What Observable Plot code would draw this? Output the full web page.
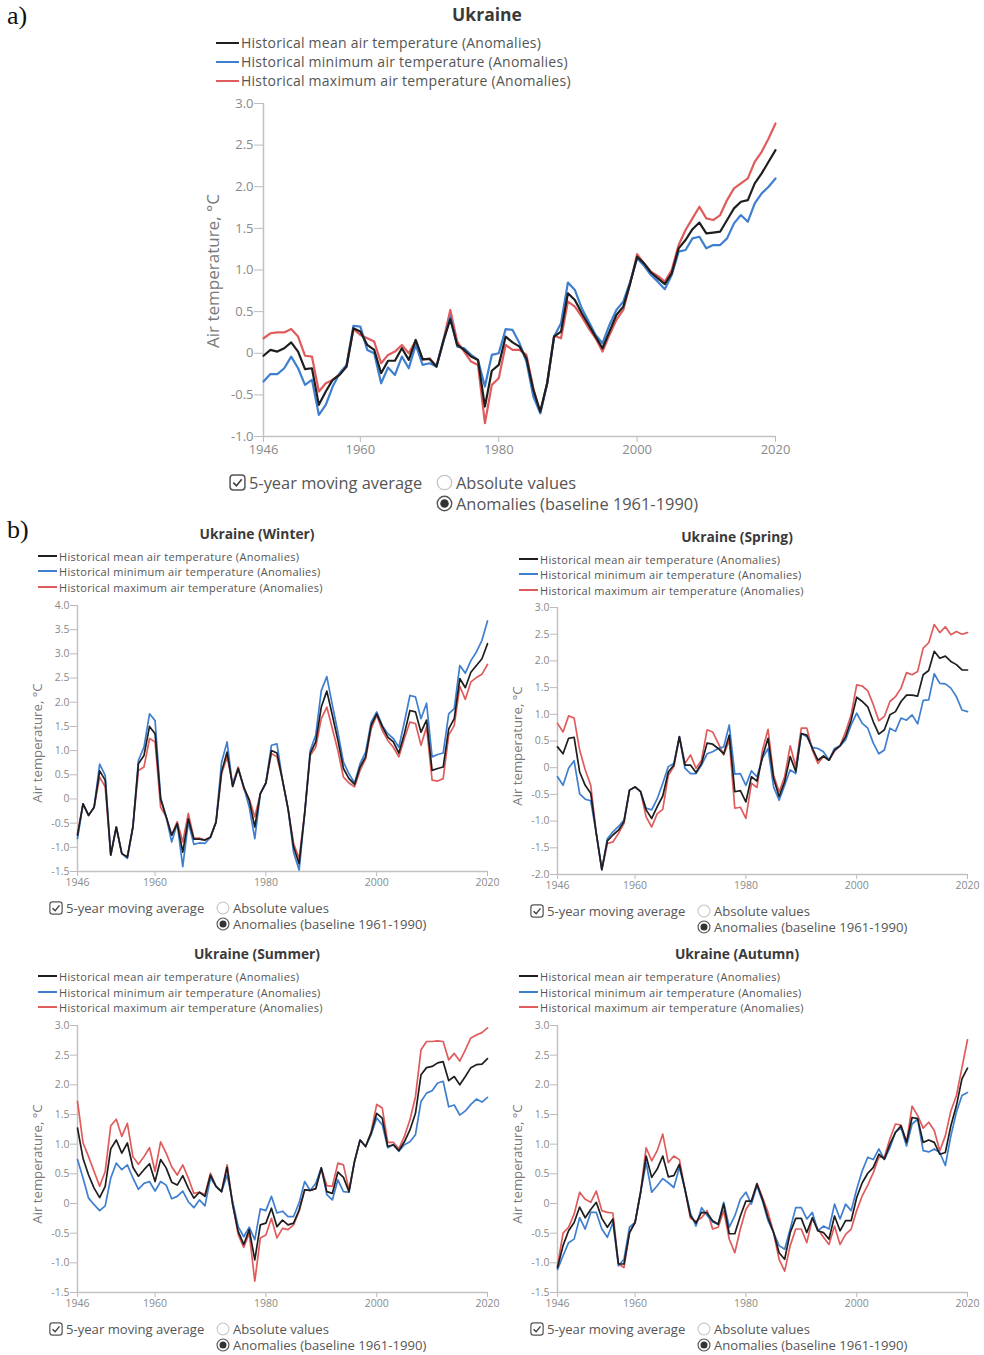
<!DOCTYPE html>
<html><head><meta charset="utf-8">
<script src="https://cdn.jsdelivr.net/npm/d3@7"></script>
<script src="https://cdn.jsdelivr.net/npm/@observablehq/plot@0.6"></script>
<style>
body{margin:0;background:#fff;font-family:"Open Sans",sans-serif;}
#page{position:relative;width:984px;height:1355px;overflow:hidden;background:#fff;}
.abs{position:absolute;white-space:nowrap;}
.abs svg{display:block;max-width:none !important;}
</style></head><body><div id="page"></div>
<script>
const years = [1946,1947,1948,1949,1950,1951,1952,1953,1954,1955,1956,1957,1958,1959,1960,1961,1962,1963,1964,1965,1966,1967,1968,1969,1970,1971,1972,1973,1974,1975,1976,1977,1978,1979,1980,1981,1982,1983,1984,1985,1986,1987,1988,1989,1990,1991,1992,1993,1994,1995,1996,1997,1998,1999,2000,2001,2002,2003,2004,2005,2006,2007,2008,2009,2010,2011,2012,2013,2014,2015,2016,2017,2018,2019,2020];
const xTicks = [1946,1960,1980,2000,2020];
const yTicksAnnual = [-1,-0.5,0,0.5,1,1.5,2,2.5,3];
const yTicksWinter = [-1.5,-1,-0.5,0,0.5,1,1.5,2,2.5,3,3.5,4];
const yTicksSpring = [-2,-1.5,-1,-0.5,0,0.5,1,1.5,2,2.5,3];
const yTicksSummerAutumn = [-1.5,-1,-0.5,0,0.5,1,1.5,2,2.5,3];
const seriesNames = ["Historical mean air temperature (Anomalies)","Historical minimum air temperature (Anomalies)","Historical maximum air temperature (Anomalies)"];

const annualMean = [-0.03,0.04,0.02,0.06,0.13,0.02,-0.19,-0.18,-0.62,-0.46,-0.32,-0.26,-0.16,0.30,0.26,0.10,0.04,-0.24,-0.09,-0.09,0.06,-0.08,0.16,-0.07,-0.07,-0.16,0.15,0.41,0.10,0.04,-0.04,-0.08,-0.64,-0.21,-0.14,0.20,0.13,0.08,-0.06,-0.44,-0.70,-0.36,0.20,0.26,0.72,0.64,0.48,0.34,0.20,0.06,0.26,0.46,0.56,0.84,1.16,1.08,0.97,0.90,0.83,0.96,1.26,1.36,1.49,1.57,1.44,1.45,1.46,1.60,1.74,1.82,1.84,2.04,2.16,2.30,2.44];
const annualMin = [-0.34,-0.25,-0.25,-0.18,-0.04,-0.18,-0.38,-0.32,-0.74,-0.62,-0.40,-0.24,-0.14,0.33,0.32,0.04,0.00,-0.36,-0.17,-0.26,-0.04,-0.18,0.10,-0.14,-0.12,-0.16,0.14,0.44,0.08,0.06,-0.02,-0.08,-0.40,-0.02,0.00,0.29,0.28,0.12,-0.10,-0.52,-0.72,-0.36,0.20,0.36,0.85,0.76,0.54,0.38,0.22,0.12,0.34,0.52,0.62,0.86,1.14,1.05,0.94,0.86,0.77,0.94,1.22,1.24,1.38,1.40,1.26,1.30,1.30,1.38,1.56,1.66,1.58,1.80,1.92,2.00,2.10];
const annualMax = [0.18,0.24,0.25,0.25,0.29,0.20,-0.03,-0.04,-0.46,-0.36,-0.32,-0.25,-0.16,0.29,0.22,0.18,0.14,-0.12,-0.02,0.02,0.10,0.00,0.15,-0.08,-0.06,-0.16,0.16,0.52,0.14,0.02,-0.10,-0.14,-0.84,-0.38,-0.30,0.10,0.04,0.04,-0.02,-0.42,-0.72,-0.36,0.21,0.18,0.62,0.56,0.44,0.30,0.18,0.02,0.22,0.40,0.52,0.84,1.19,1.08,0.98,0.93,0.86,1.00,1.30,1.48,1.62,1.76,1.62,1.60,1.66,1.84,1.98,2.04,2.10,2.30,2.42,2.58,2.76];

const winterMean = [-0.75,-0.10,-0.34,-0.17,0.58,0.39,-1.16,-0.58,-1.13,-1.20,-0.58,0.73,0.90,1.50,1.35,0.00,-0.37,-0.75,-0.51,-1.10,-0.41,-0.83,-0.83,-0.85,-0.79,-0.48,0.56,0.97,0.26,0.63,0.25,-0.03,-0.58,0.11,0.33,1.00,0.95,0.39,-0.20,-0.99,-1.34,-0.30,0.94,1.18,1.90,2.23,1.73,1.21,0.63,0.42,0.30,0.66,0.87,1.52,1.76,1.50,1.28,1.18,0.95,1.35,1.83,1.80,1.38,1.63,0.59,0.63,0.66,1.45,1.66,2.49,2.30,2.62,2.76,2.90,3.21];
const winterMin = [-0.82,-0.10,-0.34,-0.17,0.72,0.49,-1.16,-0.58,-1.13,-1.23,-0.58,0.80,1.07,1.76,1.62,0.03,-0.37,-0.89,-0.51,-1.40,-0.48,-0.94,-0.91,-0.92,-0.79,-0.48,0.76,1.18,0.26,0.63,0.25,-0.17,-0.82,0.11,0.33,1.11,1.14,0.39,-0.20,-1.10,-1.47,-0.30,1.00,1.32,2.24,2.53,1.94,1.38,0.76,0.52,0.33,0.73,0.97,1.59,1.80,1.52,1.35,1.25,1.07,1.59,2.14,2.11,1.66,1.98,0.87,0.92,0.95,1.76,1.87,2.76,2.60,2.86,3.04,3.28,3.68];
const winterMax = [-0.72,-0.10,-0.34,-0.17,0.45,0.25,-1.16,-0.58,-1.13,-1.20,-0.58,0.59,0.66,1.25,1.18,-0.17,-0.37,-0.75,-0.47,-0.89,-0.30,-0.81,-0.81,-0.85,-0.79,-0.48,0.52,0.87,0.32,0.66,0.21,0.00,-0.37,0.11,0.33,0.94,0.87,0.39,-0.20,-0.92,-1.23,-0.30,0.90,1.07,1.66,1.90,1.45,1.00,0.45,0.33,0.25,0.59,0.83,1.45,1.73,1.42,1.21,1.07,0.87,1.25,1.59,1.56,1.11,1.49,0.39,0.37,0.42,1.32,1.52,2.33,2.06,2.42,2.51,2.58,2.78];

const springMean = [0.39,0.26,0.55,0.57,-0.08,-0.33,-0.48,-1.23,-1.91,-1.37,-1.26,-1.17,-1.01,-0.42,-0.36,-0.45,-0.79,-0.95,-0.73,-0.53,-0.08,0.05,0.58,0.05,0.05,-0.09,0.08,0.46,0.44,0.36,0.26,0.61,-0.45,-0.43,-0.64,-0.17,-0.25,0.21,0.55,-0.20,-0.54,-0.26,0.21,-0.07,0.64,0.61,0.36,0.14,0.22,0.14,0.33,0.41,0.58,0.89,1.32,1.24,1.14,0.86,0.63,0.71,0.99,1.05,1.24,1.36,1.36,1.34,1.74,1.82,2.18,2.05,2.09,1.99,1.93,1.83,1.83];
const springMin = [-0.17,-0.33,-0.01,0.13,-0.49,-0.59,-0.62,-1.23,-1.91,-1.33,-1.20,-1.10,-0.98,-0.42,-0.36,-0.45,-0.76,-0.79,-0.58,-0.29,0.02,0.08,0.58,-0.01,-0.11,-0.11,0.05,0.26,0.30,0.36,0.39,0.80,-0.12,-0.11,-0.33,-0.06,-0.17,0.18,0.36,-0.36,-0.61,-0.33,-0.04,-0.11,0.64,0.58,0.38,0.36,0.30,0.14,0.36,0.41,0.52,0.80,1.02,0.83,0.74,0.46,0.26,0.33,0.74,0.68,0.93,0.89,0.99,0.82,1.26,1.27,1.76,1.58,1.57,1.49,1.33,1.08,1.05];
const springMax = [0.83,0.67,0.97,0.93,0.33,-0.04,-0.33,-1.23,-1.91,-1.42,-1.39,-1.23,-1.04,-0.42,-0.36,-0.45,-0.92,-1.11,-0.86,-0.78,-0.14,0.02,0.58,0.08,0.24,-0.01,0.14,0.71,0.67,0.46,0.24,0.52,-0.76,-0.74,-0.95,-0.29,-0.37,0.33,0.72,-0.14,-0.45,-0.17,0.41,0.02,0.74,0.74,0.33,0.08,0.21,0.14,0.31,0.41,0.67,0.99,1.55,1.53,1.44,1.18,0.88,0.96,1.24,1.33,1.49,1.78,1.74,1.80,2.24,2.34,2.68,2.53,2.64,2.49,2.55,2.50,2.53];

const summerMean = [1.27,0.76,0.48,0.26,0.10,0.29,0.92,1.07,0.85,1.02,0.61,0.46,0.57,0.67,0.37,0.74,0.60,0.36,0.31,0.47,0.26,0.09,0.19,0.12,0.48,0.29,0.20,0.61,-0.02,-0.47,-0.69,-0.44,-0.95,-0.36,-0.33,-0.08,-0.39,-0.28,-0.36,-0.33,-0.11,0.23,0.22,0.25,0.60,0.20,0.17,0.53,0.44,0.20,0.71,1.07,0.96,1.19,1.52,1.44,0.96,0.99,0.89,1.04,1.24,1.52,2.17,2.29,2.31,2.37,2.39,2.07,2.14,2.00,2.14,2.29,2.34,2.35,2.44];
const summerMin = [0.74,0.43,0.09,-0.02,-0.12,-0.04,0.43,0.68,0.57,0.65,0.43,0.24,0.34,0.37,0.21,0.37,0.31,0.08,0.12,0.21,0.03,-0.07,0.06,-0.04,0.43,0.29,0.20,0.48,0.04,-0.39,-0.56,-0.40,-0.61,-0.09,-0.12,0.12,-0.16,-0.13,-0.22,-0.22,0.01,0.37,0.22,0.34,0.60,0.15,0.06,0.40,0.20,0.19,0.71,1.07,0.96,1.16,1.44,1.33,0.94,0.99,0.88,0.99,1.04,1.16,1.72,1.86,1.90,2.03,2.06,1.63,1.66,1.49,1.56,1.67,1.76,1.71,1.79];
const summerMax = [1.72,1.02,0.79,0.54,0.29,0.54,1.31,1.42,1.13,1.35,0.79,0.66,0.79,0.94,0.54,1.04,0.85,0.62,0.48,0.65,0.43,0.17,0.19,0.15,0.51,0.29,0.20,0.65,0.00,-0.52,-0.74,-0.50,-1.31,-0.58,-0.53,-0.25,-0.58,-0.42,-0.44,-0.36,-0.13,0.23,0.22,0.25,0.60,0.30,0.29,0.68,0.65,0.23,0.71,1.07,0.96,1.21,1.67,1.61,1.03,1.03,0.92,1.13,1.41,1.80,2.59,2.73,2.73,2.74,2.73,2.42,2.53,2.40,2.59,2.79,2.84,2.88,2.96];

const autumnMean = [-1.08,-0.71,-0.46,-0.32,-0.06,-0.24,-0.10,0.02,-0.25,-0.40,-0.26,-1.02,-1.02,-0.49,-0.32,0.19,0.80,0.44,0.58,0.80,0.45,0.47,0.66,0.24,-0.21,-0.33,-0.15,-0.16,-0.29,-0.35,-0.01,-0.51,-0.51,-0.21,0.04,0.04,0.33,0.07,-0.24,-0.49,-0.83,-0.94,-0.49,-0.25,-0.25,-0.49,-0.24,-0.46,-0.49,-0.60,-0.21,-0.46,-0.29,-0.29,0.10,0.35,0.51,0.61,0.83,0.75,1.00,1.20,1.31,1.03,1.45,1.43,1.03,1.07,1.03,0.83,0.86,1.31,1.65,2.10,2.28];
const autumnMin = [-1.11,-0.88,-0.66,-0.60,-0.24,-0.43,-0.15,-0.15,-0.43,-0.57,-0.32,-1.05,-0.94,-0.40,-0.32,0.19,0.69,0.19,0.30,0.42,0.35,0.27,0.61,0.24,-0.16,-0.38,-0.07,-0.20,-0.31,-0.35,0.02,-0.40,-0.21,0.07,0.19,-0.01,0.30,0.04,-0.29,-0.49,-0.71,-0.77,-0.43,-0.07,-0.07,-0.26,-0.15,-0.46,-0.38,-0.43,-0.01,-0.26,-0.01,-0.12,0.24,0.55,0.78,0.74,0.92,0.74,0.94,1.20,1.28,0.97,1.34,1.42,0.89,0.87,0.92,0.86,0.64,1.14,1.54,1.82,1.87];
const autumnMax = [-1.05,-0.50,-0.40,-0.18,0.19,0.07,0.02,0.21,-0.12,-0.15,-0.16,-1.02,-1.08,-0.49,-0.32,0.19,0.94,0.72,0.89,1.17,0.69,0.80,0.74,0.24,-0.25,-0.30,-0.24,-0.12,-0.43,-0.40,-0.12,-0.60,-0.83,-0.43,-0.10,0.04,0.34,0.10,-0.15,-0.49,-0.94,-1.14,-0.71,-0.43,-0.43,-0.66,-0.25,-0.43,-0.57,-0.69,-0.38,-0.69,-0.52,-0.43,-0.12,0.13,0.31,0.52,0.78,0.78,1.09,1.34,1.32,1.03,1.64,1.48,1.27,1.37,1.23,0.89,1.14,1.56,1.82,2.29,2.76];

const COLORS = {mean: "#1e1e1e", min: "#3f7fcf", max: "#e05c5c"};
const page = document.getElementById("page");

function el(tag, css, html) {
  const e = document.createElement(tag);
  e.className = "abs";
  Object.assign(e.style, css);
  if (html != null) e.innerHTML = html;
  page.appendChild(e);
  return e;
}
function text(x, cy, str, size, extra = {}) {
  const lh = Math.round(size * 1.4);
  return el("div", Object.assign({left: x + "px", top: (cy - lh / 2) + "px", fontSize: size + "px", lineHeight: lh + "px", color: "#555"}, extra), str);
}
const fmt = d => d === 0 ? "0" : d.toFixed(1);

function chart(cfg) {
  const ML = 50, MR = 26, MT = 10, MB = 30;
  const toRows = arr => arr.map((v, i) => ({year: years[i], value: v}));
  const svg = Plot.plot({
    width: ML + cfg.w + MR, height: MT + cfg.h + MB,
    marginLeft: ML, marginRight: MR, marginTop: MT, marginBottom: MB,
    x: {domain: [1946, 2020]},
    y: {domain: cfg.domain},
    style: {fontFamily: "Open Sans", background: "transparent", overflow: "visible", maxWidth: "none"},
    marks: [
      Plot.axisY({ticks: cfg.yTicks, tickFormat: fmt, tickSize: cfg.ts, tickPadding: 1, label: null, stroke: "#bbb", fill: "#8a8a8a", fontSize: cfg.fs}),
      Plot.axisX({ticks: xTicks, tickFormat: d => String(d), tickSize: cfg.tsx, tickPadding: 2, label: null, stroke: "#bbb", fill: "#8a8a8a", fontSize: cfg.fs}),
      Plot.ruleX([1946], {stroke: "#c2c2c2", strokeWidth: 1.5}),
      Plot.ruleY([cfg.domain[0]], {stroke: "#c2c2c2", strokeWidth: 1.5}),
      Plot.line(toRows(cfg.max), {x: "year", y: "value", stroke: COLORS.max, strokeWidth: cfg.sw}),
      Plot.line(toRows(cfg.min), {x: "year", y: "value", stroke: COLORS.min, strokeWidth: cfg.sw}),
      Plot.line(toRows(cfg.mean), {x: "year", y: "value", stroke: COLORS.mean, strokeWidth: cfg.sw})
    ]
  });
  svg.style.maxWidth = "none";
  const wrap = el("div", {left: (cfg.left - ML) + "px", top: (cfg.top - MT) + "px", width: (ML + cfg.w + MR) + "px"});
  wrap.appendChild(svg);
}

function legend(x, ys, size, lw, ls, th) {
  const keys = ["mean", "min", "max"];
  keys.forEach((k, i) => {
    el("div", {left: x + "px", top: (ys[i] - th / 2) + "px", width: lw + "px", height: th + "px", background: COLORS[k]});
    text(x + lw + 2, ys[i], seriesNames[i], size, {color: "#555", letterSpacing: ls + "px"});
  });
}
function ylabel(cx, cy, size) {
  const w = 240, lh = Math.round(size * 1.4);
  el("div", {left: (cx - w / 2) + "px", top: (cy - lh / 2) + "px", width: w + "px", textAlign: "center", fontSize: size + "px", lineHeight: lh + "px", color: "#7a7a7a", transform: "rotate(-90deg)"}, "Air temperature, °C");
}
function controls(boxX, cy1, cy2, radioX, size) {
  const s = Math.round(size * 1.05);
  const box = `<svg width="${s}" height="${s}" viewBox="0 0 16 16"><rect x="1" y="1" width="14" height="14" rx="3" fill="none" stroke="#555" stroke-width="1.4"/><path d="M4 8.2 L7 11 L12 5" fill="none" stroke="#444" stroke-width="1.6"/></svg>`;
  const rEmpty = `<svg width="${s}" height="${s}" viewBox="0 0 16 16"><circle cx="8" cy="8" r="6.8" fill="none" stroke="#c4c4c4" stroke-width="1.2"/></svg>`;
  const rFull = `<svg width="${s}" height="${s}" viewBox="0 0 16 16"><circle cx="8" cy="8" r="6.8" fill="none" stroke="#555" stroke-width="1.3"/><circle cx="8" cy="8" r="4" fill="#333"/></svg>`;
  el("div", {left: boxX + "px", top: (cy1 - s / 2) + "px"}, box);
  text(boxX + s + 3, cy1, "5-year moving average", size);
  el("div", {left: radioX + "px", top: (cy1 - s / 2) + "px"}, rEmpty);
  text(radioX + s + 3, cy1, "Absolute values", size);
  el("div", {left: radioX + "px", top: (cy2 - s / 2) + "px"}, rFull);
  text(radioX + s + 3, cy2, "Anomalies (baseline 1961-1990)", size);
}
function title(cx, cy, str, size) {
  const lh = Math.round(size * 1.4);
  el("div", {left: (cx - 200) + "px", top: (cy - lh / 2) + "px", width: "400px", textAlign: "center", fontSize: size + "px", lineHeight: lh + "px", fontWeight: "bold", color: "#3a3a3a"}, str);
}

// panel labels
text(7, 16, "a)", 26, {fontFamily: "'Liberation Serif', serif", color: "#111"});
text(7, 530, "b)", 26, {fontFamily: "'Liberation Serif', serif", color: "#111"});

// (a) annual
title(487, 14, "Ukraine", 17.5);
legend(216, [43, 62, 81], 14, 23, 0.25, 2.5);
ylabel(213, 271, 17);
chart({left: 263, top: 103, w: 512, h: 333, domain: [-1, 3], yTicks: yTicksAnnual, fs: 13, ts: 9, tsx: 6, sw: 2.2, mean: annualMean, min: annualMin, max: annualMax});
controls(229, 482, 503, 436, 16.4);

// (b) seasons
const panels = [
  {name: "Ukraine (Winter)", left: 77, top: 605, h: 266, domain: [-1.5, 4], yTicks: yTicksWinter, tcy: 533, leg: [556, 571, 587], lx: 38, ylx: 37, ctl: [908, 924], mean: winterMean, min: winterMin, max: winterMax},
  {name: "Ukraine (Spring)", left: 557, top: 607, h: 267, domain: [-2, 3], yTicks: yTicksSpring, tcy: 536, leg: [559, 574, 590], lx: 519, ylx: 517, ctl: [911, 927], mean: springMean, min: springMin, max: springMax},
  {name: "Ukraine (Summer)", left: 77, top: 1025, h: 267, domain: [-1.5, 3], yTicks: yTicksSummerAutumn, tcy: 953, leg: [976, 992, 1007], lx: 38, ylx: 37, ctl: [1329, 1345], mean: summerMean, min: summerMin, max: summerMax},
  {name: "Ukraine (Autumn)", left: 557, top: 1025, h: 267, domain: [-1.5, 3], yTicks: yTicksSummerAutumn, tcy: 953, leg: [976, 992, 1007], lx: 519, ylx: 517, ctl: [1329, 1345], mean: autumnMean, min: autumnMin, max: autumnMax}
];
for (const p of panels) {
  title(p.left + 180, p.tcy, p.name, 13.8);
  legend(p.lx, p.leg, 11, 19, 0.3, 2);
  ylabel(p.ylx, p.top + p.h / 2 + 5, 13.2);
  chart({left: p.left, top: p.top, w: 410, h: p.h, domain: p.domain, yTicks: p.yTicks, fs: 10.5, ts: 7, tsx: 5, sw: 1.7, mean: p.mean, min: p.min, max: p.max});
  controls(p.lx + 11, p.ctl[0], p.ctl[1], p.lx + 178, 13.1);
}
</script></body></html>
